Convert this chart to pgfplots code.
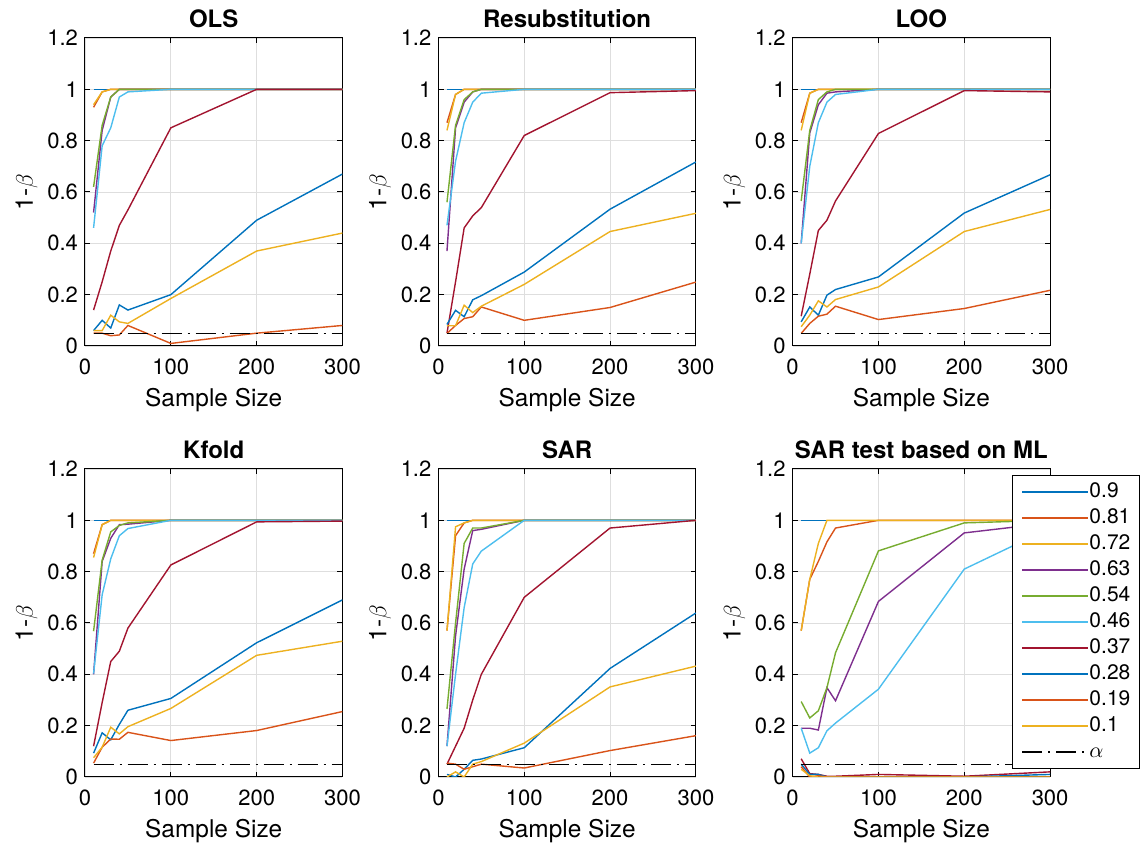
\documentclass[border=0pt]{standalone}
\usepackage{fontspec}
\setmainfont{TeX Gyre Heros}
\usepackage{pgfplots}
\usepackage{pgfplotstable}
\pgfplotsset{compat=1.18}

% MATLAB default line colours
\definecolor{c1}{rgb}{0,0.447,0.741}
\definecolor{c2}{rgb}{0.850,0.325,0.098}
\definecolor{c3}{rgb}{0.929,0.694,0.125}
\definecolor{c4}{rgb}{0.494,0.184,0.556}
\definecolor{c5}{rgb}{0.466,0.674,0.188}
\definecolor{c6}{rgb}{0.301,0.745,0.933}
\definecolor{c7}{rgb}{0.635,0.078,0.184}

% power (1-beta) by sample size; columns a..j are rho = 0.9, 0.81, ..., 0.1
\pgfplotstableread{
n   a  b     c     d     e     f     g     h     i     j
10  1  0.93  0.94  0.52  0.62  0.46  0.14  0.06  0.05  0.06
20  1  0.99  0.99  0.84  0.86  0.78  0.25  0.10  0.05  0.06
30  1  1     1     0.97  0.97  0.85  0.37  0.07  0.04  0.12
40  1  1     1     1     1     0.97  0.47  0.16  0.043 0.094
50  1  1     1     1     1     0.99  0.53  0.14  0.08  0.088
100 1  1     1     1     1     1     0.85  0.20  0.01  0.185
200 1  1     1     1     1     1     1     0.49  0.05  0.37
300 1  1     1     1     1     1     1     0.67  0.08  0.44
}\olsdata

\pgfplotstableread{
n   a  b     c     d     e     f     g     h     i     j
10  1  0.87  0.84  0.37  0.56  0.47  0.05  0.084 0.049 0.079
20  1  0.98  0.98  0.85  0.86  0.72  0.25  0.139 0.08  0.079
30  1  1     1     0.95  0.96  0.87  0.46  0.114 0.107 0.159
40  1  1     1     0.99  0.99  0.95  0.507 0.18  0.114 0.13
50  1  1     1     1     1     0.985 0.539 0.196 0.152 0.155
100 1  1     1     1     1     1     0.82  0.288 0.10  0.24
200 1  1     1     1     1     1     0.987 0.533 0.15  0.446
300 1  1     1     1     1     1     0.995 0.717 0.249 0.517
}\resubdata

\pgfplotstableread{
n   a  b     c     d     e     f     g     h     i     j
10  1  0.87  0.84  0.40  0.565 0.40  0.116 0.094 0.049 0.075
20  1  0.985 0.985 0.83  0.84  0.70  0.28  0.152 0.088 0.12
30  1  1     1     0.94  0.96  0.87  0.45  0.12  0.116 0.176
40  1  1     1     0.985 0.99  0.95  0.49  0.198 0.124 0.152
50  1  1     1     0.99  1     0.98  0.565 0.22  0.155 0.181
100 1  1     1     1     1     1     0.828 0.269 0.103 0.23
200 1  1     1     1     1     1     0.995 0.518 0.146 0.446
300 1  1     1     1     1     1     0.99  0.667 0.217 0.532
}\loodata

\pgfplotstableread{
n   a  b     c     d     e     f     g     h     i     j
10  1  0.87  0.855 0.40  0.568 0.403 0.12  0.093 0.054 0.075
20  1  0.983 0.983 0.84  0.845 0.71  0.29  0.172 0.116 0.116
30  1  1     1     0.93  0.955 0.85  0.45  0.145 0.148 0.194
40  1  1     1     0.983 0.98  0.94  0.49  0.205 0.147 0.168
50  1  1     1     0.985 0.99  0.968 0.58  0.26  0.174 0.196
100 1  1     1     1     1     1     0.826 0.306 0.142 0.267
200 1  1     1     1     1     1     0.994 0.523 0.181 0.474
300 1  1     1     1     1     1     0.997 0.69  0.255 0.529
}\kfolddata

\pgfplotstableread{
n   a  b     c     d     e     f     g     h     i     j
10  1  0.57  0.57  0.12  0.265 0.12  0.05  0.01  0.054 0.0
20  1  0.94  0.975 0.55  0.60  0.40  0.12  0.0   0.05  0.02
30  1  0.99  0.99  0.81  0.91  0.66  0.19  0.03  0.03  0.0
40  1  1     1     0.96  0.97  0.83  0.30  0.065 0.04  0.05
50  1  1     1     0.965 0.97  0.88  0.40  0.07  0.05  0.06
100 1  1     1     1     1     1     0.70  0.114 0.035 0.132
200 1  1     1     1     1     1     0.97  0.423 0.103 0.351
300 1  1     1     1     1     1     1     0.639 0.161 0.432
}\sardata

\pgfplotstableread{
n   a  b     c     d     e     f     g     h     i     j
10  1  0.57  0.57  0.19  0.294 0.19  0.071 0.05  0.04  0.03
20  1  0.77  0.77  0.19  0.23  0.093 0.013 0.01  0.0   0.005
30  1  0.84  0.91  0.183 0.258 0.114 0.01  0.01  0.005 0.0
40  1  0.916 1     0.348 0.348 0.18  0.003 0.0   0.0   0.0
50  1  0.97  1     0.297 0.484 0.21  0.003 0.0   0.0   0.0
100 1  1     1     0.684 0.881 0.342 0.01  0.0   0.0   0.0
200 1  1     1     0.951 0.99  0.81  0.003 0.0   0.0   0.0
300 1  1     1     0.99  1     0.97  0.02  0.01  0.0   0.0
}\mldata

\tikzset{alphadash/.style={dash pattern=on 10pt off 3pt on 1pt off 3pt}}

% stroke colours are given with draw= so that they are set directly on the path
\newcommand{\powercurves}[1]{%
  \addplot[draw=c1] table[x=n,y=a]{#1};
  \addplot[draw=c2] table[x=n,y=b]{#1};
  \addplot[draw=c3] table[x=n,y=c]{#1};
  \addplot[draw=c4] table[x=n,y=d]{#1};
  \addplot[draw=c5] table[x=n,y=e]{#1};
  \addplot[draw=c6] table[x=n,y=f]{#1};
  \addplot[draw=c7] table[x=n,y=g]{#1};
  \addplot[draw=c1] table[x=n,y=h]{#1};
  \addplot[draw=c2] table[x=n,y=i]{#1};
  \addplot[draw=c3] table[x=n,y=j]{#1};
  \addplot[draw=black, line width=0.5pt, alphadash] coordinates {(10,0.05) (300,0.05)};
}

\pgfplotsset{
  panel/.style={
    scale only axis, width=128.75pt, height=154pt,
    anchor=south west,
    xmin=0, xmax=300, ymin=0, ymax=1.2,
    xtick={0,100,200,300}, ytick={0,0.2,0.4,0.6,0.8,1,1.2},
    grid=major, major grid style={line width=0.4pt, black!13},
    tick align=inside, major tick length=2.6pt,
    tick style={black, line width=0.5pt},
    axis line style={line width=0.5pt},
    xlabel={Sample Size}, ylabel={1-$\beta$}, ylabel shift=-2pt,
    title style={font=\bfseries\fontsize{12}{14}\selectfont, yshift=-4.5pt},
    tick label style={font=\fontsize{11}{13}\selectfont},
    xticklabel style={yshift=-3pt},
    label style={font=\fontsize{12.2}{14}\selectfont},
    /pgf/number format/assume math mode=true,
    every axis plot/.append style={line width=0.7pt, mark=none},
  },
}

\begin{document}
\begin{tikzpicture}
\useasboundingbox (0,0) rectangle (571pt,423pt);

\begin{axis}[panel, at={(42.5pt,250pt)}, title={OLS}]
\powercurves{\olsdata}
\end{axis}

\begin{axis}[panel, at={(219.2pt,250pt)}, title={Resubstitution}]
\powercurves{\resubdata}
\end{axis}

\begin{axis}[panel, at={(396.3pt,250pt)}, title={LOO}]
\powercurves{\loodata}
\end{axis}

\begin{axis}[panel, at={(42.5pt,34.5pt)}, title={Kfold}]
\powercurves{\kfolddata}
\end{axis}

\begin{axis}[panel, at={(219.2pt,34.5pt)}, title={SAR}]
\powercurves{\sardata}
\end{axis}

\begin{axis}[panel, at={(396.3pt,34.5pt)}, title={SAR test based on ML},
  legend entries={0.9,0.81,0.72,0.63,0.54,0.46,0.37,0.28,0.19,0.1,$\alpha$},
  legend image code/.code={\draw[#1, line width=1pt] (0pt,0pt) -- (33pt,0pt);},
  legend cell align=left,
  legend style={at={(0.852,0.981)}, anchor=north west, draw=black,
    line width=0.5pt, fill=white, font=\fontsize{10.5}{12}\selectfont,
    inner xsep=4.5pt, inner ysep=1.75pt, row sep=0pt,
    /tikz/every even column/.append style={column sep=5.5pt},
    nodes={text height=9.25pt, text depth=3.75pt, inner ysep=0pt, inner xsep=0pt}},
]
\powercurves{\mldata}
\end{axis}
\end{tikzpicture}
\end{document}
